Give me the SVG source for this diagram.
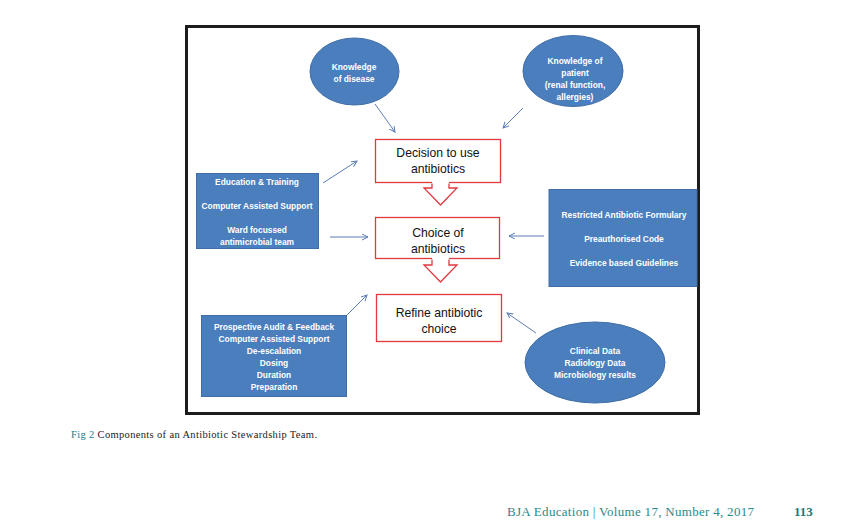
<svg xmlns="http://www.w3.org/2000/svg" width="856" height="525" viewBox="0 0 856 525">
<defs>
<marker id="ah" markerUnits="userSpaceOnUse" markerWidth="8" markerHeight="8" refX="6" refY="3" orient="auto">
<path d="M0,0 L6,3 L0,6" fill="none" stroke="#5b7db3" stroke-width="1"/>
</marker>
<style>
.blue{fill:#4a7ebd;stroke:#3f6ea6;stroke-width:1}
.red{fill:#fff;stroke:#e0393e;stroke-width:1.3}
.wt{font-family:"Liberation Sans",Arial,sans-serif;font-size:8.4px;font-weight:bold;fill:#fff;text-anchor:middle}
.bt{font-family:"Liberation Sans",Arial,sans-serif;font-size:12.2px;fill:#111;text-anchor:middle}
.con{stroke:#5b7db3;stroke-width:1;fill:none;marker-end:url(#ah)}
.cap{font-family:"Liberation Serif","Times New Roman",serif}
</style>
</defs>
<rect width="856" height="525" fill="#fff"/>
<rect x="186.5" y="26.5" width="512" height="387" fill="#fff" stroke="#1c1c1c" stroke-width="3"/>

<g id="kdisease">
<ellipse class="blue" cx="354.5" cy="71.5" rx="44.5" ry="33.5"/>
<text class="wt" x="354" y="70">Knowledge</text>
<text class="wt" x="354" y="82">of disease</text>
</g>
<g id="kpatient">
<ellipse class="blue" cx="573" cy="71" rx="50" ry="35.5"/>
<text class="wt" x="575" y="64">Knowledge of</text>
<text class="wt" x="575" y="76">patient</text>
<text class="wt" x="575" y="88">(renal function,</text>
<text class="wt" x="575" y="100">allergies)</text>
</g>
<g id="decision">
<rect class="red" x="375.5" y="139.5" width="125" height="43"/>
<text class="bt" x="438" y="157">Decision to use</text>
<text class="bt" x="438" y="173">antibiotics</text>
</g>
<g id="arrow1">
<path d="M432,181 V188 H424 L440.5,205 L457,188 H449 V181 Z" fill="#fff"/>
<path d="M432,183.5 V188 H424 L440.5,205 L457,188 H449 V183.5" fill="none" stroke="#e0393e" stroke-width="1.3"/>
</g>
<g id="choice">
<rect class="red" x="375.5" y="217.5" width="124" height="41"/>
<text class="bt" x="438" y="237">Choice of</text>
<text class="bt" x="438" y="253">antibiotics</text>
</g>
<g id="arrow2">
<path d="M432,257 V265 H424 L440.5,282 L457,265 H449 V257 Z" fill="#fff"/>
<path d="M432,259.5 V265 H424 L440.5,282 L457,265 H449 V259.5" fill="none" stroke="#e0393e" stroke-width="1.3"/>
</g>
<g id="refine">
<rect class="red" x="376.5" y="294.5" width="125" height="47"/>
<text class="bt" x="439" y="317">Refine antibiotic</text>
<text class="bt" x="439" y="333">choice</text>
</g>
<g id="education">
<rect class="blue" x="196.5" y="173.5" width="122" height="75"/>
<text class="wt" x="257" y="185">Education &amp; Training</text>
<text class="wt" x="257" y="209">Computer Assisted Support</text>
<text class="wt" x="257" y="233">Ward focussed</text>
<text class="wt" x="257" y="245">antimicrobial team</text>
</g>
<g id="restricted">
<rect class="blue" x="549" y="189.5" width="148" height="97"/>
<text class="wt" x="624" y="218">Restricted Antibiotic Formulary</text>
<text class="wt" x="624" y="242">Preauthorised Code</text>
<text class="wt" x="624" y="266">Evidence based Guidelines</text>
</g>
<g id="audit">
<rect class="blue" x="201.5" y="315.5" width="145" height="81"/>
<text class="wt" x="274" y="330">Prospective Audit &amp; Feedback</text>
<text class="wt" x="274" y="342">Computer Assisted Support</text>
<text class="wt" x="274" y="354">De-escalation</text>
<text class="wt" x="274" y="366">Dosing</text>
<text class="wt" x="274" y="378">Duration</text>
<text class="wt" x="274" y="390">Preparation</text>
</g>
<g id="clinical">
<ellipse class="blue" cx="595" cy="362.5" rx="70" ry="40.5"/>
<text class="wt" x="595" y="354">Clinical Data</text>
<text class="wt" x="595" y="366">Radiology Data</text>
<text class="wt" x="595" y="378">Microbiology results</text>
</g>

<g id="connectors">
<line class="con" x1="375" y1="104" x2="395" y2="132"/>
<line class="con" x1="523" y1="108" x2="503" y2="128"/>
<line class="con" x1="323" y1="183" x2="357" y2="161"/>
<line class="con" x1="330" y1="237" x2="368" y2="237"/>
<line class="con" x1="544" y1="236" x2="509" y2="236"/>
<line class="con" x1="347" y1="315" x2="367" y2="295"/>
<line class="con" x1="536" y1="333" x2="507" y2="313"/>
</g>

<text class="cap" x="71" y="438" font-size="10.5" fill="#222" textLength="246" lengthAdjust="spacing"><tspan fill="#23808a">Fig 2</tspan> Components of an Antibiotic Stewardship Team.</text>
<text class="cap" x="507" y="516" font-size="13" fill="#2a8a8c" textLength="247" lengthAdjust="spacing">BJA Education | Volume 17, Number 4, 2017</text>
<text class="cap" x="794" y="516" font-size="13" font-weight="bold" fill="#23787c">113</text>
</svg>
